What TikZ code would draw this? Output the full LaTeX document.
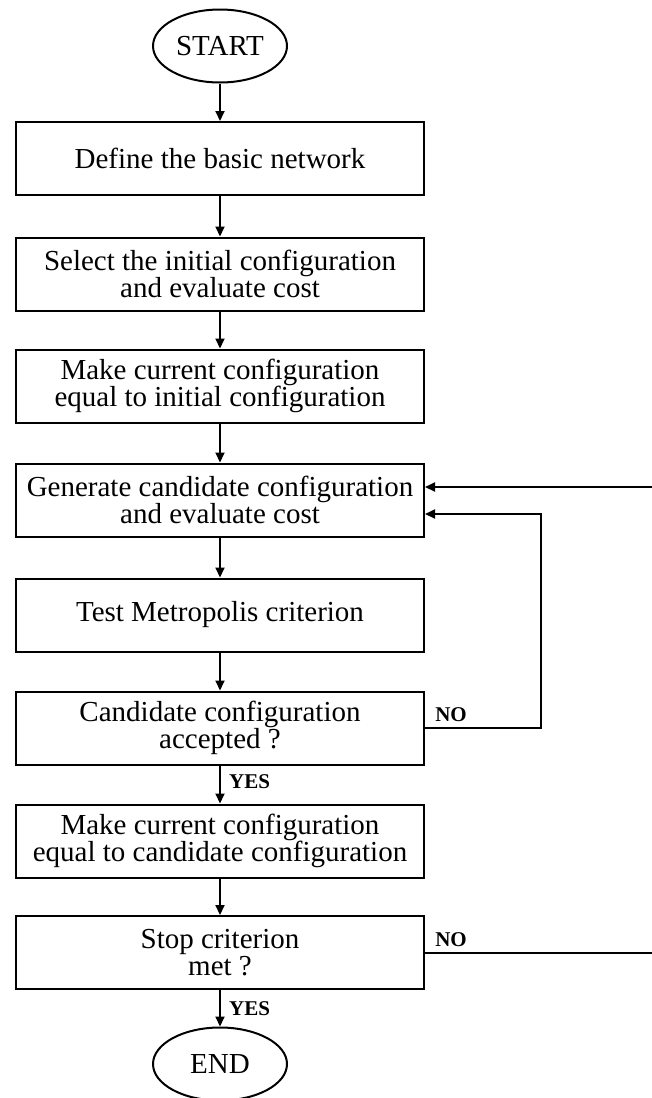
\documentclass[tikz,border=0pt]{standalone}
\usepackage{fontspec}
\setmainfont{Liberation Serif}
\usetikzlibrary{shapes.geometric,arrows.meta}
\tikzset{
  boite/.style={draw, line width=2pt, minimum width=408pt, minimum height=73pt,
    align=center, inner sep=0pt, font=\fontsize{29}{27}\selectfont},
  terme/.style={draw, ellipse, line width=2pt, minimum width=134pt, minimum height=73pt,
    inner sep=0pt, font=\fontsize{29}{30}\selectfont},
  fleche/.style={line width=2pt, -{Triangle[length=10pt,width=9pt]}},
  etiq/.style={inner sep=0pt, font=\bfseries\fontsize{21}{21}\selectfont}
}
\begin{document}
\begin{tikzpicture}[x=1pt,y=-1pt]
    \useasboundingbox (0,0) rectangle (652,1098);

    % Début et fin
    \node[terme] (start) at (220,46) {START};
    \node[terme] (end) at (220,1064) {END};

    % Les étapes
    \node[boite] (b1) at (220,158.5) {Define the basic network};
    \node[boite] (b2) at (220,274) {Select the initial configuration\\and evaluate cost};
    \node[boite] (b3) at (220,386) {Make current configuration\\equal to initial configuration};
    \node[boite] (b4) at (220,500) {Generate candidate configuration\\and evaluate cost};
    \node[boite] (b5) at (220,615) {Test Metropolis criterion};
    \node[boite] (b6) at (220,728) {Candidate configuration\\accepted ?};
    \node[boite] (b7) at (220,841) {Make current configuration\\equal to candidate configuration};
    \node[boite] (b8) at (220,952.5) {Stop criterion\\met ?};

    % Flèches verticales
    \draw[fleche] (start) -- (b1);
    \draw[fleche] (b1) -- (b2);
    \draw[fleche] (b2) -- (b3);
    \draw[fleche] (b3) -- (b4);
    \draw[fleche] (b4) -- (b5);
    \draw[fleche] (b5) -- (b6);
    \draw[fleche] (b6) -- (b7);
    \draw[fleche] (b7) -- (b8);
    \draw[fleche] (b8) -- (end);

    % Retour si la configuration est refusée
    \coordinate (r1) at (541,514);
    \draw[fleche] (b6.east) -| (r1) -- (r1 -| b4.east);

    % Retour si le critère d'arrêt n'est pas atteint
    \coordinate (r2) at (690,487);
    \draw[fleche] (b8.east) -| (r2) -- (r2 -| b4.east);

    % Étiquettes
    \node[etiq] (no1) at (451,715) {NO};
    \node[etiq] (no2) at (451,940) {NO};
    \node[etiq, anchor=west] (yes1) at (229,782) {YES};
    \node[etiq, anchor=west] (yes2) at (229,1009) {YES};
\end{tikzpicture}
\end{document}
